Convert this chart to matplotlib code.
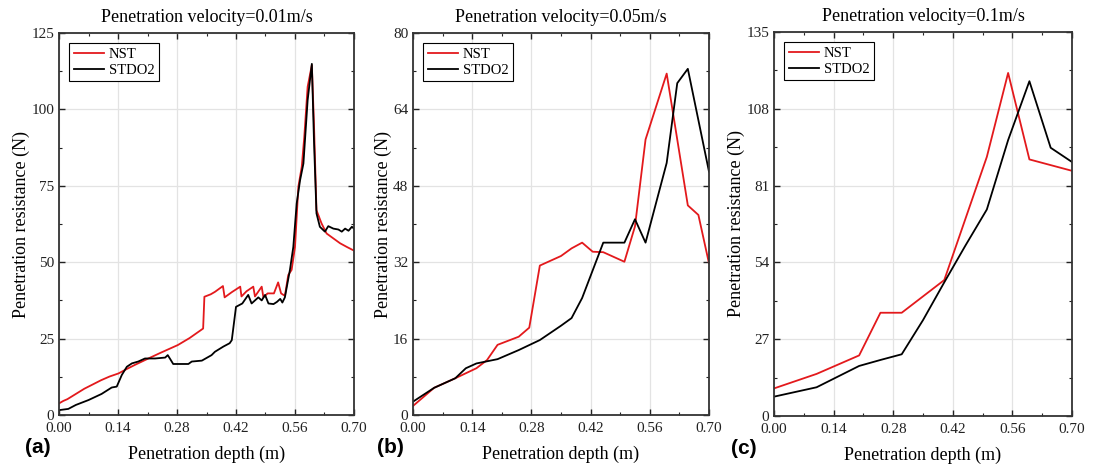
# penetration resistance vs depth, three velocities
import matplotlib
matplotlib.use('Agg')
import matplotlib.pyplot as plt
from matplotlib.ticker import MultipleLocator, AutoMinorLocator

# ------ data ------
# (a) 0.01 m/s
a_nst_x = [0.000, 0.010, 0.020, 0.040, 0.060, 0.080, 0.100, 0.120, 0.141, 0.160, 0.180, 0.212, 0.240, 0.282,
           0.310, 0.342, 0.345, 0.360, 0.370, 0.389, 0.393, 0.410, 0.430, 0.433, 0.445, 0.461, 0.465, 0.481,
           0.485, 0.495, 0.510, 0.520, 0.527, 0.536, 0.544, 0.552, 0.560, 0.568, 0.576, 0.582, 0.590, 0.600,
           0.605, 0.611, 0.623, 0.635, 0.651, 0.667, 0.683, 0.700]
a_nst_y = [3.8, 4.6, 5.2, 6.9, 8.6, 10.0, 11.4, 12.6, 13.6, 15.0, 16.4, 18.5, 20.3, 22.9,
           25.2, 28.3, 38.7, 39.5, 40.3, 42.2, 38.5, 40.2, 42.0, 38.8, 40.5, 42.0, 38.8, 42.0,
           38.5, 39.8, 39.8, 43.4, 39.8, 39.0, 45.8, 47.5, 55.0, 74.7, 81.2, 90.9, 107.4, 114.5,
           95.4, 67.0, 62.7, 59.4, 57.8, 56.2, 55.0, 53.8]
a_std_x = [0.000, 0.022, 0.040, 0.070, 0.101, 0.125, 0.137, 0.149, 0.161, 0.173, 0.188, 0.204, 0.228, 0.252,
           0.258, 0.263, 0.271, 0.307, 0.315, 0.339, 0.362, 0.370, 0.390, 0.405, 0.410, 0.420, 0.435, 0.449,
           0.457, 0.473, 0.481, 0.489, 0.497, 0.509, 0.517, 0.525, 0.530, 0.536, 0.548, 0.556, 0.564, 0.572,
           0.580, 0.590, 0.600, 0.605, 0.611, 0.619, 0.631, 0.639, 0.651, 0.663, 0.671, 0.679, 0.687, 0.695, 0.700]
a_std_y = [1.6, 2.0, 3.3, 4.9, 6.9, 9.0, 9.3, 13.1, 15.8, 16.9, 17.5, 18.5, 18.5, 18.8,
           19.6, 18.5, 16.7, 16.7, 17.5, 17.8, 19.6, 20.7, 22.4, 23.5, 24.5, 35.4, 36.5, 39.3,
           36.5, 38.5, 37.5, 39.3, 36.5, 36.3, 37.0, 38.0, 36.8, 38.5, 47.5, 55.0, 69.2, 76.8,
           82.3, 103.0, 114.9, 90.0, 66.0, 61.6, 60.0, 61.8, 61.0, 60.7, 60.0, 61.0, 60.3, 61.6, 61.0]

# (b) 0.05 m/s
b_nst_x = [0.0, 0.05, 0.10, 0.15, 0.175, 0.20, 0.25, 0.275, 0.30, 0.35, 0.375, 0.40, 0.425, 0.45, 0.50,
           0.525, 0.55, 0.60, 0.65, 0.675, 0.70]
b_nst_y = [1.9, 5.7, 7.7, 9.8, 11.5, 14.7, 16.4, 18.3, 31.3, 33.3, 34.9, 36.1, 34.2, 34.1, 32.1,
           39.5, 57.7, 71.5, 43.9, 41.9, 31.8]
b_std_x = [0.0, 0.05, 0.10, 0.125, 0.15, 0.20, 0.25, 0.30, 0.35, 0.375, 0.40, 0.45, 0.50, 0.525, 0.55,
           0.60, 0.625, 0.65, 0.70]
b_std_y = [2.8, 5.7, 7.7, 9.8, 10.8, 11.7, 13.6, 15.7, 18.7, 20.3, 24.5, 36.1, 36.1, 41.0, 36.1,
           52.8, 69.5, 72.5, 51.0]

# (c) 0.1 m/s
c_nst_x = [0.0, 0.10, 0.20, 0.25, 0.30, 0.40, 0.50, 0.55, 0.60, 0.70]
c_nst_y = [9.7, 14.8, 21.3, 36.3, 36.3, 47.8, 91.1, 120.6, 90.2, 86.2]
c_std_x = [0.0, 0.10, 0.20, 0.25, 0.30, 0.35, 0.40, 0.45, 0.50, 0.55, 0.60, 0.65, 0.70]
c_std_y = [6.8, 10.1, 17.6, 19.7, 21.7, 33.7, 47.0, 60.0, 72.6, 97.0, 117.7, 94.3, 89.3]

titles = ['Penetration velocity=0.01m/s', 'Penetration velocity=0.05m/s', 'Penetration velocity=0.1m/s']
panel_tags = ['(a)', '(b)', '(c)']
ymax = [125, 80, 135]
ystep = [25, 16, 27]
xticks = [0.00, 0.14, 0.28, 0.42, 0.56, 0.70]

# ------ style ------
plt.rcParams['font.family'] = 'Liberation Serif'
red = '#e3191c'

fig = plt.figure(figsize=(10.99, 4.67), dpi=100)
boxes = [[0.0537, 0.1113, 0.2684, 0.8180],
         [0.3758, 0.1113, 0.2693, 0.8180],
         [0.7043, 0.1092, 0.2711, 0.8223]]
tag_x = [-0.115, -0.122, -0.144]
series = [(a_nst_x, a_nst_y, a_std_x, a_std_y),
          (b_nst_x, b_nst_y, b_std_x, b_std_y),
          (c_nst_x, c_nst_y, c_std_x, c_std_y)]

for i in range(3):
    ax = fig.add_axes(boxes[i])
    nx, ny, sx, sy = series[i]
    ax.plot(nx, ny, color=red, lw=1.3, label='NST')
    ax.plot(sx, sy, color='black', lw=1.3, label='STDO2')

    ax.set_xlim(0, 0.70)
    ax.set_ylim(0, ymax[i])
    ax.set_xticks(xticks)
    ax.set_xticklabels(['%.2f' % t for t in xticks])
    ax.yaxis.set_major_locator(MultipleLocator(ystep[i]))
    ax.xaxis.set_minor_locator(AutoMinorLocator(2))
    ax.yaxis.set_minor_locator(AutoMinorLocator(2))
    ax.tick_params(which='both', direction='in', top=True, right=True, labelsize=11, colors='#222222')
    ax.tick_params(axis='x', which='major', pad=5)
    ax.tick_params(which='major', length=4, width=1)
    ax.tick_params(which='minor', length=2.5, width=0.8)
    ax.grid(True, color='#e3e3e3', lw=0.9)
    ax.set_axisbelow(True)
    for sp in ax.spines.values():
        sp.set_linewidth(1.3)
        sp.set_color('#333333')

    ax.set_title(titles[i], fontsize=13, pad=8)
    ax.set_xlabel('Penetration depth (m)', fontsize=13, labelpad=8)
    ax.set_ylabel('Penetration resistance (N)', fontsize=13, labelpad=1)

    leg = ax.legend(loc='upper left', bbox_to_anchor=(0.02, 0.985), fontsize=10.5, fancybox=False,
                    edgecolor='black', framealpha=1, handlelength=2.1, handletextpad=0.3,
                    borderpad=0.3, labelspacing=0.2, borderaxespad=0.3)
    leg.get_frame().set_linewidth(0.8)

    ax.text(tag_x[i], -0.085, panel_tags[i], transform=ax.transAxes, fontsize=15, fontweight='bold',
            family='Liberation Sans', ha='left', va='center')

plt.savefig('out.png', dpi=100)
